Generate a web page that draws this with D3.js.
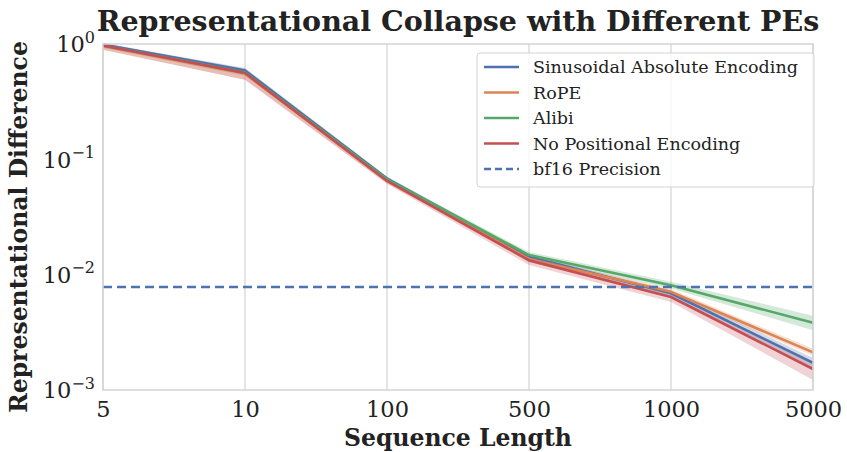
<!DOCTYPE html>
<html>
<head>
<meta charset="utf-8">
<script src="https://cdn.jsdelivr.net/npm/d3@7"></script>
<style>
  body { margin: 0; background: #fff; }
  text { font-family: "DejaVu Serif", serif; fill: #222; }
</style>
</head>
<body>
<svg></svg>
<script>
// data
var lengths = ['5', '10', '100', '500', '1000', '5000'];

var sinusoidal = [0.99, 0.59, 0.068, 0.0143, 0.0069, 0.00172];
var sinusoidalLo = [0.95, 0.55, 0.065, 0.0137, 0.0065, 0.00156];
var sinusoidalHi = [1.02, 0.62, 0.071, 0.0149, 0.0073, 0.00190];

var rope = [0.96, 0.555, 0.066, 0.0137, 0.0071, 0.00212];
var ropeLo = [0.89, 0.49, 0.062, 0.0129, 0.0067, 0.00198];
var ropeHi = [1.01, 0.61, 0.070, 0.0145, 0.0075, 0.00228];

var alibi = [0.97, 0.565, 0.067, 0.0148, 0.0081, 0.00383];
var alibiLo = [0.93, 0.53, 0.064, 0.0141, 0.0076, 0.0033];
var alibiHi = [1.00, 0.60, 0.070, 0.0157, 0.0087, 0.0044];

var nope = [0.97, 0.56, 0.065, 0.0133, 0.0064, 0.00152];
var nopeLo = [0.89, 0.49, 0.061, 0.0121, 0.0058, 0.00122];
var nopeHi = [1.01, 0.61, 0.069, 0.0145, 0.0070, 0.00178];

var bf16 = 0.0078125;

var yTicks = [1e-3, 1e-2, 1e-1, 1e0];

var series = [
  {name: 'Sinusoidal Absolute Encoding', color: '#4C72B0', v: sinusoidal, lo: sinusoidalLo, hi: sinusoidalHi},
  {name: 'RoPE', color: '#DD8452', v: rope, lo: ropeLo, hi: ropeHi},
  {name: 'Alibi', color: '#55A868', v: alibi, lo: alibiLo, hi: alibiHi},
  {name: 'No Positional Encoding', color: '#C44E52', v: nope, lo: nopeLo, hi: nopeHi}
];

var svgWidth = 847, svgHeight = 452;
var margin = {top: 44, right: 34, bottom: 62, left: 103};
var w = svgWidth - margin.left - margin.right;
var h = svgHeight - margin.top - margin.bottom;

var svg = d3.select('svg')
  .attr('width', svgWidth)
  .attr('height', svgHeight);

var g = svg.append('g')
  .attr('transform', 'translate(' + margin.left + ',' + margin.top + ')');

var xScale = d3.scalePoint()
  .domain(lengths)
  .range([0, w]);

var yScale = d3.scaleLog()
  .domain([1e-3, 1e0])
  .range([h, 0]);

// vertical grid
g.append('g')
  .selectAll('line')
  .data(lengths)
  .enter()
  .append('line')
  .attr('x1', function(d) { return xScale(d); })
  .attr('x2', function(d) { return xScale(d); })
  .attr('y1', 0)
  .attr('y2', h)
  .attr('stroke', '#d3d3d3')
  .attr('stroke-width', 1.2);

// bands
var area = d3.area()
  .x(function(d) { return xScale(d.x); })
  .y0(function(d) { return yScale(d.lo); })
  .y1(function(d) { return yScale(d.hi); });

var line = d3.line()
  .x(function(d) { return xScale(d.x); })
  .y(function(d) { return yScale(d.y); });

series.forEach(function(s) {
  var pts = lengths.map(function(x, i) {
    return {x: x, y: s.v[i], lo: s.lo[i], hi: s.hi[i]};
  });
  s.pts = pts;
  g.append('path')
    .datum(pts)
    .attr('d', area)
    .attr('fill', s.color)
    .attr('fill-opacity', 0.25)
    .attr('stroke', 'none');
});

series.forEach(function(s) {
  g.append('path')
    .datum(s.pts)
    .attr('d', line)
    .attr('fill', 'none')
    .attr('stroke', s.color)
    .attr('stroke-width', 2.6)
    .attr('stroke-linejoin', 'round');
});

// bf16 precision
g.append('line')
  .attr('x1', 0)
  .attr('x2', w)
  .attr('y1', yScale(bf16))
  .attr('y2', yScale(bf16))
  .attr('stroke', '#4C72B0')
  .attr('stroke-width', 2.6)
  .attr('stroke-dasharray', '9,5');

// frame
g.append('rect')
  .attr('width', w)
  .attr('height', h)
  .attr('fill', 'none')
  .attr('stroke', '#d3d3d3')
  .attr('stroke-width', 1.5);

// x axis
var x_axis = d3.axisBottom(xScale).tickSize(0).tickPadding(11);
var xg = g.append('g')
  .attr('transform', 'translate(0,' + h + ')')
  .call(x_axis);
xg.select('.domain').remove();
xg.selectAll('text')
  .attr('font-family', 'DejaVu Serif')
  .attr('font-size', 22.5)
  .attr('fill', '#262626');

// y axis with 10^n labels
var y_axis = d3.axisLeft(yScale).tickValues(yTicks).tickSize(0).tickFormat('');
var yg = g.append('g').call(y_axis);
yg.select('.domain').remove();
yg.selectAll('.tick').each(function(d) {
  var t = d3.select(this).append('text')
    .attr('x', -8)
    .attr('dy', '0.35em')
    .attr('text-anchor', 'end')
    .attr('font-size', 22.5)
    .attr('fill', '#262626');
  t.append('tspan').text('10');
  t.append('tspan')
    .attr('dy', '-0.6em')
    .attr('font-size', 16)
    .text(d3.format('d')(Math.round(Math.log10(d))).replace('-', '\u2212'));
});

// title and axis labels
svg.append('text')
  .attr('x', margin.left + w / 2)
  .attr('y', 31)
  .attr('text-anchor', 'middle')
  .attr('font-size', 28.5)
  .attr('font-weight', 'bold')
  .text('Representational Collapse with Different PEs');

svg.append('text')
  .attr('x', margin.left + w / 2)
  .attr('y', 446)
  .attr('text-anchor', 'middle')
  .attr('font-size', 23.5)
  .attr('font-weight', 'bold')
  .text('Sequence Length');

svg.append('text')
  .attr('transform', 'translate(27,' + (margin.top + h / 2 + 10) + ') rotate(-90)')
  .attr('text-anchor', 'middle')
  .attr('font-size', 23.5)
  .attr('font-weight', 'bold')
  .text('Representational Difference');

// legend
var legend = svg.append('g').attr('transform', 'translate(477,53)');
legend.append('rect')
  .attr('width', 337)
  .attr('height', 134)
  .attr('rx', 3)
  .attr('fill', '#fff')
  .attr('fill-opacity', 0.8)
  .attr('stroke', '#d3d3d3');

var legendItems = series.map(function(s) { return {name: s.name, color: s.color, dash: null}; })
  .concat([{name: 'bf16 Precision', color: '#4C72B0', dash: '7,4'}]);

var li = legend.selectAll('.item')
  .data(legendItems)
  .enter()
  .append('g')
  .attr('transform', function(d, i) { return 'translate(0,' + (14 + i * 25.5) + ')'; });

li.append('line')
  .attr('x1', 7)
  .attr('x2', 42)
  .attr('stroke', function(d) { return d.color; })
  .attr('stroke-width', 2.4)
  .attr('stroke-dasharray', function(d) { return d.dash; });

li.append('text')
  .attr('x', 56)
  .attr('dy', '0.35em')
  .attr('font-size', 17.5)
  .attr('fill', '#262626')
  .text(function(d) { return d.name; });
</script>
</body>
</html>
